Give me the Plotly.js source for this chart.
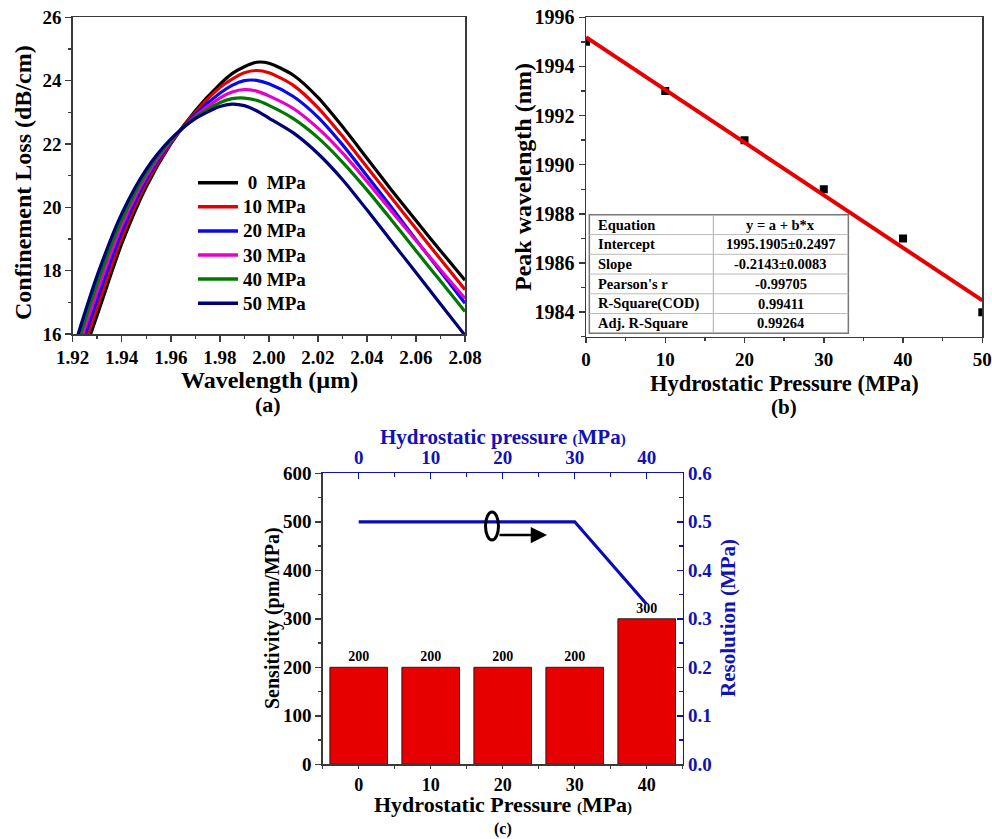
<!DOCTYPE html>
<html>
<head>
<meta charset="utf-8">
<script src="https://cdn.plot.ly/plotly-3.0.1.min.js"></script>
<style>
html, body { margin: 0; padding: 0; background: #ffffff; }
#chart { width: 992px; height: 839px; }
</style>
</head>
<body>
<div id="chart"></div>
<script>
// ---------- (a) confinement loss spectra ----------
const wavelength = [1.92, 1.93, 1.94, 1.95, 1.96, 1.97, 1.98, 1.985, 1.99, 1.995, 2.00, 2.01, 2.02, 2.03, 2.04, 2.05, 2.06, 2.07, 2.08];
const loss0MPa  = [14.35, 16.6, 18.85, 20.65, 22.0, 23.05, 23.88, 24.22, 24.44, 24.58, 24.55, 24.17, 23.47, 22.55, 21.55, 20.55, 19.58, 18.63, 17.7];
const loss10MPa = [14.57, 16.85, 19.04, 20.76, 22.03, 23.0, 23.78, 24.05, 24.25, 24.32, 24.25, 23.85, 23.15, 22.25, 21.27, 20.3, 19.33, 18.36, 17.4];
const loss20MPa = [14.79, 17.1, 19.23, 20.87, 22.06, 22.94, 23.6, 23.85, 24.0, 24.01, 23.9, 23.5, 22.85, 21.98, 21.0, 20.0, 18.98, 17.97, 16.97];
const loss30MPa = [15.01, 17.35, 19.42, 20.98, 22.09, 22.88, 23.45, 23.64, 23.72, 23.67, 23.52, 23.12, 22.5, 21.72, 20.82, 19.88, 18.95, 18.03, 17.12];
const loss40MPa = [15.23, 17.6, 19.61, 21.09, 22.12, 22.84, 23.3, 23.43, 23.45, 23.38, 23.22, 22.8, 22.2, 21.43, 20.55, 19.6, 18.63, 17.67, 16.71];
const loss50MPa = [15.45, 17.85, 19.8, 21.2, 22.15, 22.8, 23.18, 23.26, 23.21, 23.05, 22.82, 22.35, 21.7, 20.88, 19.92, 18.93, 17.94, 16.95, 15.96];
const spectraNames = ['\u00a00\u00a0\u00a0MPa', '10 MPa', '20 MPa', '30 MPa', '40 MPa', '50 MPa'];
const spectraColors = ['#000000', '#e60000', '#0a0ae6', '#e600c8', '#007800', '#000078'];

// ---------- (b) peak wavelength vs pressure ----------
const pressureB = [0, 10, 20, 30, 40, 50];
const peakWavelength = [1995, 1993, 1991, 1989, 1987, 1984];
const fitIntercept = 1995.1905;
const fitSlope = -0.2143;
const fitLabels = ['Equation', 'Intercept', 'Slope', "Pearson's r", 'R-Square(COD)', 'Adj. R-Square'];
const fitValues = ['y = a + b*x', '1995.1905\u00b10.2497', '-0.2143\u00b10.0083', '-0.99705', '0.99411', '0.99264'];

// ---------- (c) sensitivity and resolution ----------
const pressureC = [0, 10, 20, 30, 40];
const sensitivity = [200, 200, 200, 200, 300];
const resolution = [0.5, 0.5, 0.5, 0.5, 0.33];

const W = 992, H = 839;
const px = x => x / W;
const py = y => 1 - y / H;

const SERIF = 'Liberation Serif, Times New Roman, serif';
const BLUE = '#1212b4';
const AXIS_GREY = '#3a3a3a';
const bold = (size, color) => ({ family: SERIF, size: size, color: color || '#000', weight: 700 });

const spectra = [loss0MPa, loss10MPa, loss20MPa, loss30MPa, loss40MPa, loss50MPa];
const traces = spectra.map((ys, i) => ({
  type: 'scatter', mode: 'lines', x: wavelength, y: ys,
  name: spectraNames[i], xaxis: 'x', yaxis: 'y', showlegend: false,
  line: { color: spectraColors[i], width: 3.2, shape: 'spline', smoothing: 0.75 }
}));

// measured peaks and linear fit
traces.push({
  type: 'scatter', mode: 'markers', x: pressureB, y: peakWavelength,
  xaxis: 'x2', yaxis: 'y2', showlegend: false,
  marker: { symbol: 'square', size: 8, color: '#000' }
});
const fitX = [pressureB[0], pressureB[pressureB.length - 1]];
traces.push({
  type: 'scatter', mode: 'lines', x: fitX, y: fitX.map(p => fitIntercept + fitSlope * p),
  xaxis: 'x2', yaxis: 'y2', showlegend: false,
  line: { color: '#e60000', width: 4 }
});

// sensitivity bars + resolution line
traces.push({
  type: 'bar', x: pressureC, y: sensitivity, xaxis: 'x3', yaxis: 'y3', showlegend: false,
  width: 8, marker: { color: '#e60000', line: { color: '#202020', width: 1 } },
  text: sensitivity.map(String), textposition: 'outside', cliponaxis: false,
  textfont: bold(14), hoverinfo: 'skip'
});
traces.push({
  type: 'scatter', mode: 'lines', x: pressureC, y: resolution, xaxis: 'x4', yaxis: 'y4',
  showlegend: false, line: { color: '#0c0cb4', width: 3.2 }
});

function axisBase(extra) {
  return Object.assign({
    showgrid: false, zeroline: false, showline: true, linecolor: AXIS_GREY, linewidth: 1.5,
    ticks: 'outside', ticklen: 6, tickwidth: 1.5, tickcolor: AXIS_GREY,
    tickfont: bold(19), ticklabeloverflow: 'allow'
  }, extra);
}

const shapes = [];
const annotations = [];

// key for the spectra of panel (a)
spectraNames.forEach((name, i) => {
  const yRow = 182.7 + i * 24.1;
  shapes.push({ type: 'line', xref: 'paper', yref: 'paper',
    x0: px(198), x1: px(238), y0: py(yRow), y1: py(yRow),
    line: { color: spectraColors[i], width: 3.5 } });
  annotations.push({ xref: 'paper', yref: 'paper', x: px(241), y: py(yRow), text: name,
    showarrow: false, xanchor: 'left', yanchor: 'middle', font: bold(19) });
});

// table for the linear fit (drawn in data coordinates of panel b)
const tblX0 = 0.42, tblX1 = 33.1, tblXm = 16.06, tblY0 = 1983.14, tblY1 = 1987.96;
const rowH = (tblY1 - tblY0) / fitLabels.length;
shapes.push({ type: 'rect', xref: 'x2', yref: 'y2', x0: tblX0, x1: tblX1, y0: tblY0, y1: tblY1,
  fillcolor: '#ffffff', line: { color: '#777', width: 1.5 }, layer: 'above' });
shapes.push({ type: 'line', xref: 'x2', yref: 'y2', x0: tblXm, x1: tblXm, y0: tblY0, y1: tblY1,
  line: { color: '#aaa', width: 1 }, layer: 'above' });
for (let i = 1; i < fitLabels.length; i++) {
  const yy = tblY1 - i * rowH;
  shapes.push({ type: 'line', xref: 'x2', yref: 'y2', x0: tblX0, x1: tblX1, y0: yy, y1: yy,
    line: { color: '#bbb', width: 1 }, layer: 'above' });
}
fitLabels.forEach((lab, i) => {
  const yc = tblY1 - (i + 0.5) * rowH;
  annotations.push({ xref: 'x2', yref: 'y2', x: 1.3, y: yc, text: lab, showarrow: false,
    xanchor: 'left', yanchor: 'middle', font: bold(14.5) });
  annotations.push({ xref: 'x2', yref: 'y2', x: (tblXm + tblX1) / 2, y: yc, text: fitValues[i],
    showarrow: false, xanchor: 'center', yanchor: 'middle', font: bold(14.5) });
});

// ellipse + arrow pointing the resolution curve to its axis
shapes.push({ type: 'circle', xref: 'paper', yref: 'paper',
  x0: px(485.5), x1: px(498.5), y0: py(540), y1: py(512),
  line: { color: '#000', width: 3 } });
annotations.push({ xref: 'paper', yref: 'paper', x: px(547), y: py(535),
  ax: -49, ay: 0, text: '', showarrow: true, arrowhead: 2, arrowsize: 1.3,
  arrowwidth: 2.5, arrowcolor: '#000', standoff: 0 });

function label(x, y, text, size, color, angle) {
  annotations.push({ xref: 'paper', yref: 'paper', x: px(x), y: py(y), text: text,
    showarrow: false, xanchor: 'center', yanchor: 'middle', textangle: angle || 0,
    font: bold(size, color) });
}
const small = s => '<span style="font-size:15px">' + s + '</span>';
label(269, 380, 'Wavelength (\u00b5m)', 24);
label(23, 183, 'Confinement Loss (dB/cm)', 24, '#000', -90);
label(268, 405, '(a)', 22);
label(523, 177, 'Peak wavelength (nm)', 24, '#000', -90);
label(784, 383, 'Hydrostatic Pressure (MPa)', 22.5);
label(784, 407, '(b)', 21);
label(503, 437, 'Hydrostatic pressure ' + small('(') + 'MPa' + small(')'), 21, BLUE);
label(503, 804, 'Hydrostatic Pressure ' + small('(') + 'MPa' + small(')'), 22);
label(503, 828.8, '(c)', 16);
label(272, 618, 'Sensitivity (pm/MPa)', 20, '#000', -90);
label(728, 618, 'Resolution (MPa)', 21, BLUE, -90);

const layout = {
  width: W, height: H, margin: { l: 0, r: 0, t: 0, b: 0 },
  paper_bgcolor: '#ffffff', plot_bgcolor: 'rgba(0,0,0,0)',
  font: { family: SERIF, color: '#000' },
  showlegend: false,
  xaxis: axisBase({ domain: [px(72.7), px(465)], anchor: 'y', range: [1.92, 2.08],
    dtick: 0.02, tick0: 1.92, tickformat: '.2f', mirror: true,
    minor: { dtick: 0.01, ticks: 'outside', ticklen: 3.5, tickcolor: AXIS_GREY } }),
  yaxis: axisBase({ domain: [py(334), py(17.3)], anchor: 'x', range: [16, 26],
    dtick: 2, mirror: true,
    minor: { dtick: 1, ticks: 'outside', ticklen: 3.5, tickcolor: AXIS_GREY } }),
  xaxis2: axisBase({ domain: [px(586), px(982.3)], anchor: 'y2', range: [0, 50],
    dtick: 10, mirror: true, tickfont: bold(19), ticklen: 5,
    minor: { dtick: 5, ticks: 'outside', ticklen: 3, tickcolor: AXIS_GREY } }),
  yaxis2: axisBase({ domain: [py(336.7), py(17.3)], anchor: 'x2', range: [1983, 1996],
    tick0: 1984, dtick: 2, mirror: true, tickfont: bold(20),
    minor: { dtick: 1, ticks: 'outside', ticklen: 3.5, tickcolor: AXIS_GREY } }),
  xaxis3: axisBase({ domain: [px(322.7), px(682.7)], anchor: 'y3', range: [-5, 45],
    tickvals: pressureC, ticktext: pressureC.map(String), tickfont: bold(18), ticklen: 3.5,
    minor: { tickvals: [-5, 5, 15, 25, 35, 45], ticks: 'outside', ticklen: 3, tickcolor: AXIS_GREY } }),
  yaxis3: axisBase({ domain: [py(764.3), py(473.3)], anchor: 'x3', range: [0, 600],
    dtick: 100,
    minor: { dtick: 50, ticks: 'outside', ticklen: 3.5, tickcolor: AXIS_GREY } }),
  xaxis4: axisBase({ overlaying: 'x3', side: 'top', anchor: 'y4', range: [-5, 45],
    tickvals: pressureC, ticktext: pressureC.map(String),
    linecolor: BLUE, tickcolor: BLUE, ticks: 'inside', tickfont: bold(19, BLUE),
    minor: { tickvals: [5, 15, 25, 35], ticks: 'inside', ticklen: 4, tickcolor: BLUE } }),
  yaxis4: axisBase({ overlaying: 'y3', side: 'right', anchor: 'x4', range: [0, 0.6],
    dtick: 0.1, tickformat: '.1f',
    linecolor: BLUE, tickcolor: BLUE, ticks: 'inside', tickfont: bold(19, BLUE),
    minor: { dtick: 0.05, ticks: 'inside', ticklen: 4, tickcolor: BLUE } }),
  shapes: shapes,
  annotations: annotations
};

Plotly.newPlot('chart', traces, layout, { displayModeBar: false, staticPlot: true });
</script>
</body>
</html>
